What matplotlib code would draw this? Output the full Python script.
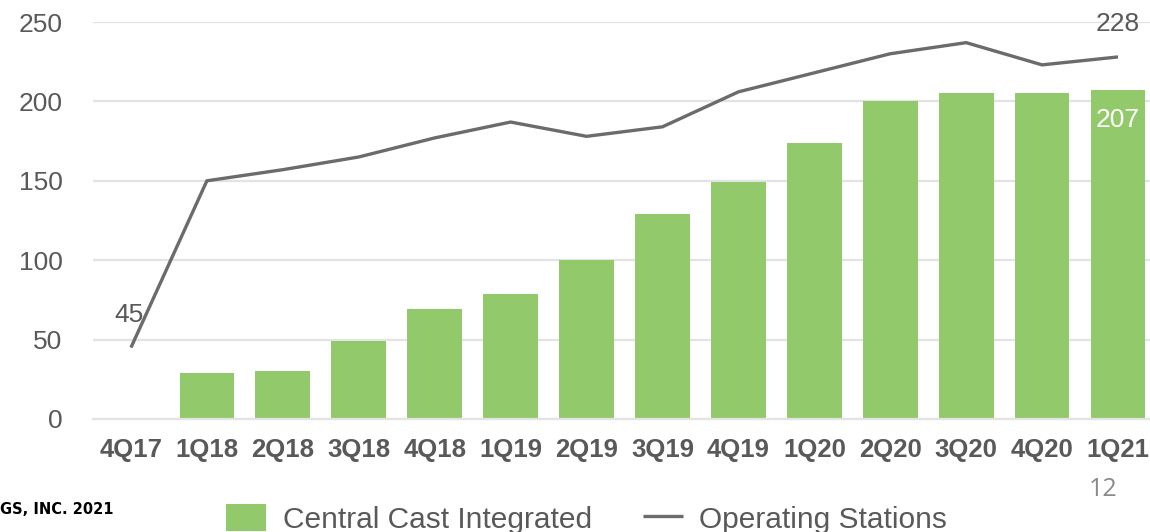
import matplotlib
matplotlib.use("Agg")
import matplotlib.pyplot as plt
import numpy as np

categories = ["4Q17", "1Q18", "2Q18", "3Q18", "4Q18", "1Q19", "2Q19", "3Q19",
              "4Q19", "1Q20", "2Q20", "3Q20", "4Q20", "1Q21"]
central_cast = [0, 29, 30, 49, 69, 79, 100, 129, 149, 174, 200, 205, 205, 207]
operating_stations = [45, 150, 157, 165, 177, 187, 178, 184, 206, 218, 230, 237, 223, 228]
yticks = [0, 50, 100, 150, 200, 250]

GREEN = "#92C96A"
LINE = "#6B6B6B"
TEXT = "#595959"
GRID = "#E3E3E3"

plt.rcParams['font.family'] = ['Liberation Sans', 'DejaVu Sans']

fig = plt.figure(figsize=(11.5, 5.32), dpi=100)
ax = fig.add_axes([93/1150, 1-419/532, 1063/1150, 397/532])

x = np.arange(len(categories))
vals = np.array(central_cast, dtype=float)
mask = vals > 0
bars = ax.bar(x[mask], vals[mask], width=0.72, color=GREEN, zorder=2, label="Central Cast Integrated")
line, = ax.plot(x, operating_stations, color=LINE, lw=2.4, zorder=3, label="Operating Stations",
                solid_capstyle='butt')

ax.set_xlim(-0.5, len(categories) - 0.5)
ax.set_ylim(0, 250)
ax.set_yticks(yticks)
ax.set_yticklabels([str(t) for t in yticks], fontsize=19, color=TEXT)
ax.set_xticks(x)
ax.set_xticklabels(categories, fontsize=18.5, fontweight='bold', color=TEXT)
ax.tick_params(axis='both', length=0)
ax.tick_params(axis='y', pad=22)
ax.tick_params(axis='x', pad=14)
ax.grid(axis='y', color=GRID, lw=1.6, zorder=0)
ax.set_axisbelow(True)
for s in ax.spines.values():
    s.set_visible(False)
ax.spines['bottom'].set_visible(True)
ax.spines['bottom'].set_color(GRID)
ax.spines['bottom'].set_linewidth(1.6)

# data labels
ax.text(x[0] - 0.02, operating_stations[0] + 13, str(operating_stations[0]),
        fontsize=19, color=TEXT, ha='center', va='bottom')
ax.text(x[-1], operating_stations[-1] + 13, str(operating_stations[-1]),
        fontsize=19, color=TEXT, ha='center', va='bottom')
ax.text(x[-1], central_cast[-1] - 19, str(central_cast[-1]),
        fontsize=19, color='white', ha='center', va='center')

leg = fig.legend([bars, line], ["Central Cast Integrated", "Operating Stations"],
                 loc='center', bbox_to_anchor=(0.51, 1-519/532), ncol=2, frameon=False,
                 fontsize=21.5, handlelength=1.35, handleheight=1.0, handletextpad=0.55,
                 columnspacing=1.7, labelcolor=TEXT)

fig.text(0, 1-510/532, "GS, INC. 2021",
         fontsize=10.5, fontweight='bold', color='black', ha='left', va='center',
         family=['DejaVu Sans'])
fig.text(1117/1150, 1-490/532, "12", fontsize=18, color="#8A8A8A", ha='right', va='center',
         family=['Open Sans', 'DejaVu Sans'])

fig.savefig("out.png", dpi=100)
